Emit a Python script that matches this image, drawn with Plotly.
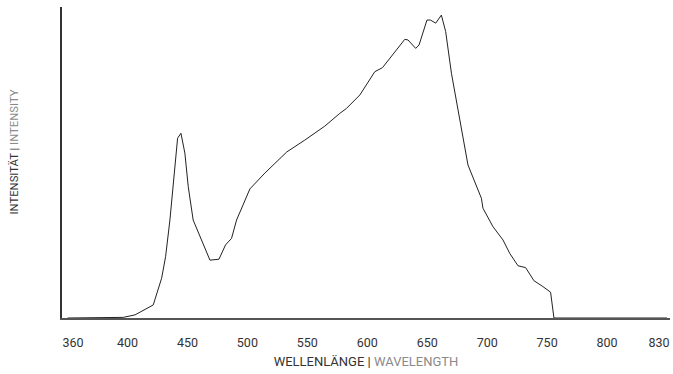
import plotly.graph_objects as go

# Spectrum data (wavelength in nm, relative intensity)
wavelength = [350, 392, 396.5, 406.3, 421.5, 428.5, 431.8, 435.4, 438.8, 441.8, 444.6, 447.9,
              450.7, 454.8, 468.8, 476.3, 481.8, 486.8, 491.0, 502.1, 514.6, 532.9, 547.9,
              564.6, 577.1, 582.7, 593.8, 606.3, 612.7, 631.3, 634.0, 640.4, 643.2, 649.8,
              652.7, 657.1, 661.8, 665.4, 670.2, 674.3, 676.5, 684.0, 695.2, 696.5, 704.8,
              713.2, 718.8, 725.7, 732.1, 739.0, 746.5, 752.9, 755.7, 850]
intensity = [0, 0, 0.2, 1.0, 4.2, 12.8, 19.7, 31.5, 45.4, 57.8, 59.4, 53.0,
             42.2, 31.5, 18.6, 18.9, 23.5, 25.6, 31.5, 41.5, 46.6, 53.4, 57.2,
             61.7, 65.8, 67.4, 71.7, 79.2, 80.5, 89.6, 89.4, 86.7, 87.8, 95.8,
             95.8, 94.8, 97.4, 92.1, 78.7, 70.1, 64.3, 49.2, 38.5, 35.3, 29.4,
             25.1, 20.8, 16.8, 16.2, 12.0, 10.1, 8.3, 0, 0]

tick_labels = ["360", "400", "450", "500", "550", "600", "650", "700", "750", "800", "830"]
tick_positions = [354.6, 400, 450, 500, 550, 600, 650, 700, 750, 800, 843.3]

x_title = "WELLENLÄNGE | <span style='color:#8a8a8a'>WAVELENGTH</span>"
y_title = "INTENSITÄT | <span style='color:#8a8a8a'>INTENSITY</span>"

fig = go.Figure()
fig.add_trace(go.Scatter(
    x=wavelength, y=intensity, mode="lines",
    line=dict(color="#222222", width=1),
    hoverinfo="skip", showlegend=False,
))

fig.update_layout(
    width=673, height=374,
    margin=dict(l=62, r=3, t=7, b=56),
    paper_bgcolor="white", plot_bgcolor="white",
    font=dict(family="Roboto", size=12, color="#333333"),
    xaxis=dict(
        range=[345.4, 852.5],
        tickmode="array", tickvals=tick_positions, ticktext=tick_labels,
        showgrid=False, zeroline=False,
        showline=True, linecolor="#555555", linewidth=1.5,
        ticks="", ticklabelstandoff=12,
        tickfont=dict(family="Roboto", size=12.5, color="#333333"),
        title=dict(text=x_title, standoff=8,
                   font=dict(family="Roboto", size=13, color="#333333")),
    ),
    yaxis=dict(
        range=[0, 100],
        showticklabels=False, ticks="",
        showgrid=False, zeroline=False,
        showline=True, linecolor="#333333", linewidth=2,
    ),
    annotations=[dict(
        text=y_title, textangle=-90,
        xref="paper", yref="paper", x=-0.0773, y=0.532,
        xanchor="center", yanchor="middle", showarrow=False,
        font=dict(family="Roboto", size=11.3, color="#333333"),
    )],
)

fig.write_html("out.html", config={"displayModeBar": False},
               post_script="document.body.style.margin='0';document.body.style.overflow='hidden';")
